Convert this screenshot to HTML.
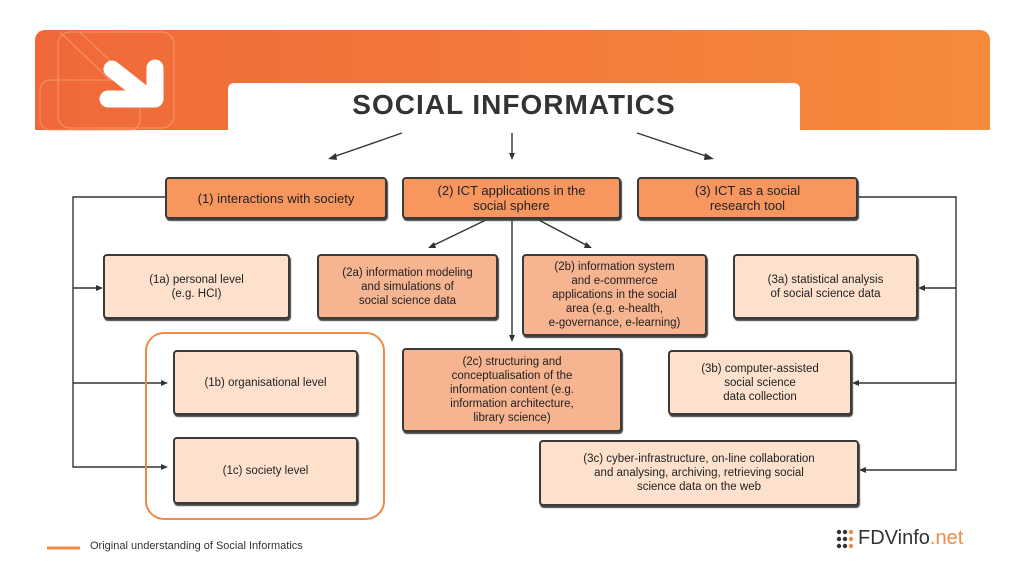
<!DOCTYPE html>
<html><head><meta charset="utf-8"><style>
body{margin:0;width:1024px;height:576px;background:#fff;position:relative;overflow:hidden;font-family:"Liberation Sans",sans-serif;}
.b{position:absolute;box-sizing:border-box;border:2px solid #3a3a3a;border-radius:4px;display:flex;align-items:center;justify-content:center;text-align:center;font-size:11.5px;line-height:14px;color:#222;box-shadow:1px 2px 1px #444;}
.t{background:#f7965e;font-size:13px;line-height:15px;}
.m{background:#f7b491;}
.l{background:#fde1cd;}
</style></head><body>
<div style="position:absolute;left:35px;top:30px;width:955px;height:100px;border-radius:10px 10px 0 0;background:linear-gradient(90deg,#f0683a,#f58b3a);"></div>
<div style="position:absolute;left:228px;top:83px;width:572px;height:80px;background:#fff;border-radius:6px 6px 0 0;"></div>
<svg style="position:absolute;left:0;top:0" width="1024" height="576">
<g stroke="#f7a27a" stroke-width="1" fill="none" opacity="0.8">
<rect x="58" y="32" width="116" height="96" rx="12"/><rect x="40" y="80" width="100" height="50" rx="10"/>
<line x1="60" y1="32" x2="110" y2="80"/><line x1="80" y1="32" x2="130" y2="80"/>
</g>
<g stroke="#fff" stroke-width="17" stroke-linecap="round" stroke-linejoin="round" fill="none">
<line x1="112" y1="69" x2="150" y2="99"/><polyline points="108,99 155,99 155,68"/>
</g>
<g stroke="#333" stroke-width="1.4" fill="none">
<line x1="402" y1="133" x2="333" y2="157"/><line x1="512" y1="133" x2="512" y2="156"/><line x1="637" y1="133" x2="709" y2="157"/>
<line x1="490" y1="218" x2="432" y2="246"/><line x1="512" y1="218" x2="512" y2="338"/><line x1="535" y1="218" x2="588" y2="246"/>
<polyline points="165,197 73,197 73,467 165,467"/><line x1="73" y1="288" x2="101" y2="288"/><line x1="73" y1="383" x2="165" y2="383"/>
<polyline points="858,197 956,197 956,470 861,470"/><line x1="956" y1="288" x2="920" y2="288"/><line x1="956" y1="383" x2="854" y2="383"/>
</g>
<g fill="#333">
<polygon points="328,159 336,153 337,160"/><polygon points="512,160 509,153 515,153"/><polygon points="714,159 705,153 704,160"/>
<polygon points="428,248 434,242 436,248"/><polygon points="512,342 509,335 515,335"/><polygon points="592,248 586,242 584,248"/>
<polygon points="103,288 96,285 96,291"/><polygon points="168,383 161,380 161,386"/><polygon points="168,467 161,464 161,470"/>
<polygon points="918,288 925,285 925,291"/><polygon points="852,383 859,380 859,386"/><polygon points="859,470 866,467 866,473"/>
</g>
<rect x="146" y="333" width="238" height="186" rx="18" fill="none" stroke="#f08a45" stroke-width="2"/>
<line x1="47" y1="548" x2="80" y2="548" stroke="#f08a45" stroke-width="3"/>
<g fill="#333"><circle cx="839" cy="532" r="2.2"/><circle cx="839" cy="539" r="2.2"/><circle cx="839" cy="546" r="2.2"/><circle cx="845" cy="532" r="2.2"/><circle cx="845" cy="539" r="2.2"/><circle cx="845" cy="546" r="2.2"/></g>
<g fill="#f08a45"><circle cx="851" cy="532" r="2.2"/><circle cx="851" cy="539" r="2.2"/><circle cx="851" cy="546" r="2.2"/></g>
</svg>
<div style="position:absolute;left:228px;top:89px;width:572px;text-align:center;font-size:28px;font-weight:bold;color:#333;letter-spacing:1px;">SOCIAL INFORMATICS</div>
<div class="b t" style="left:165px;top:177px;width:222px;height:42px;">(1) interactions with society</div>
<div class="b t" style="left:402px;top:177px;width:219px;height:42px;">(2) ICT applications in the<br>social sphere</div>
<div class="b t" style="left:637px;top:177px;width:221px;height:42px;">(3) ICT as a social<br>research tool</div>
<div class="b l" style="left:103px;top:254px;width:187px;height:65px;">(1a) personal level<br>(e.g. HCI)</div>
<div class="b m" style="left:317px;top:254px;width:181px;height:65px;">(2a) information modeling<br>and simulations of<br>social science data</div>
<div class="b m" style="left:522px;top:254px;width:185px;height:82px;">(2b) information system<br>and e-commerce<br>applications in the social<br>area (e.g. e-health,<br>e-governance, e-learning)</div>
<div class="b l" style="left:733px;top:254px;width:185px;height:65px;">(3a) statistical analysis<br>of social science data</div>
<div class="b l" style="left:173px;top:350px;width:185px;height:65px;">(1b) organisational level</div>
<div class="b l" style="left:173px;top:437px;width:185px;height:67px;">(1c) society level</div>
<div class="b m" style="left:402px;top:348px;width:220px;height:84px;">(2c) structuring and<br>conceptualisation of the<br>information content (e.g.<br>information architecture,<br>library science)</div>
<div class="b l" style="left:668px;top:350px;width:184px;height:65px;">(3b) computer-assisted<br>social science<br>data collection</div>
<div class="b l" style="left:539px;top:440px;width:320px;height:66px;">(3c) cyber-infrastructure, on-line collaboration<br>and analysing, archiving, retrieving social<br>science data on the web</div>
<div style="position:absolute;left:90px;top:540px;font-size:11px;color:#333;">Original understanding of Social Informatics</div>
<div style="position:absolute;left:858px;top:527px;font-size:20px;color:#333;">FDVinfo<span style="color:#f08a45">.net</span></div>
</body></html>
